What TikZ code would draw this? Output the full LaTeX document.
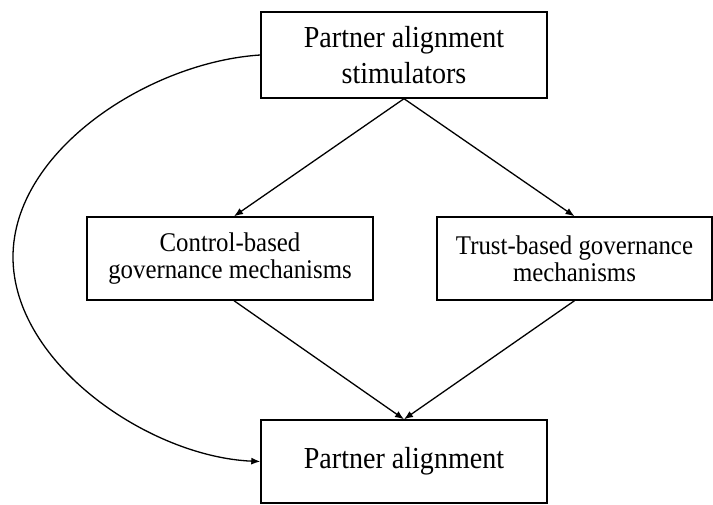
\documentclass[tikz,border=0pt]{standalone}
\usepackage{fontspec}
\setmainfont[FakeStretch=0.92]{Liberation Serif}
\usetikzlibrary{arrows.meta}
\begin{document}
\begin{tikzpicture}[x=1pt,y=-1pt,
  box/.style={draw=black, line width=1.4pt, rectangle, inner sep=0pt, align=center, minimum width=286pt},
  bigtext/.style={font=\fontsize{30.5}{36.5}\selectfont},
  midtext/.style={font=\fontsize{27}{27}\selectfont},
  conn/.style={draw=black, line width=1.3pt, -{Latex[length=9pt,width=7pt]}}]
\useasboundingbox (0,0) rectangle (713,505);
\node[box, bigtext, minimum height=86pt] (top) at (404,55) {Partner alignment\\stimulators};
\node[box, midtext, minimum height=83pt] (ctrl) at (230,258.5) {Control-based\\governance mechanisms};
\node[box, midtext, minimum height=83pt, minimum width=275pt] (trust) at (574.5,258.5) {Trust-based governance\\mechanisms};
\node[box, bigtext, minimum height=83pt] (bot) at (404,461.5) {Partner alignment};
\coordinate (leftmost) at (13,257);
\draw[conn] (top.south) -- ([xshift=4pt]ctrl.north);
\draw[conn] (top.south) -- (trust.north);
\draw[conn] ([xshift=4pt]ctrl.south) -- (bot.north);
\draw[conn] (trust.south) -- (bot.north);
\draw[conn] (top.west) .. controls (150,62) and (13,150) .. (leftmost) .. controls (13,364) and (150,457) .. (bot.west);
\end{tikzpicture}
\end{document}
